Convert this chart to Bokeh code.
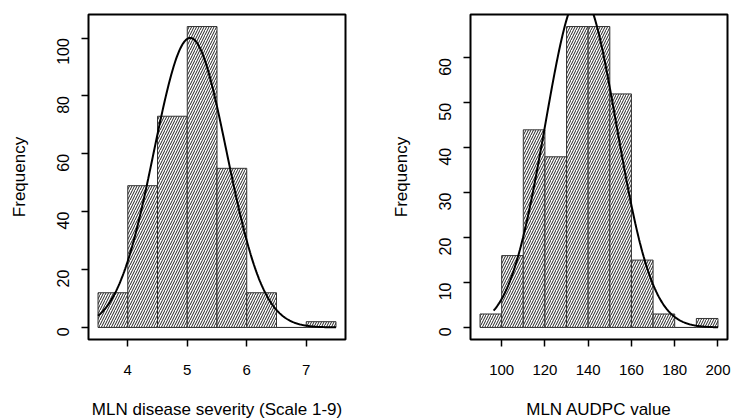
import math
import numpy as np
from bokeh.plotting import figure
from bokeh.layouts import row
from bokeh.models import Range1d, FixedTicker
from bokeh.embed import file_html
from bokeh.resources import INLINE

# ---- data ----
sev_edges = [3.5, 4.0, 4.5, 5.0, 5.5, 6.0, 6.5, 7.0, 7.5]
sev_counts = [12, 49, 73, 104, 55, 12, 0, 2]
sev_mean, sev_sd = 5.05, 0.612

aud_edges = [90, 100, 110, 120, 130, 140, 150, 160, 170, 180, 190, 200]
aud_counts = [3, 16, 44, 38, 67, 67, 52, 15, 3, 0, 2]
aud_mean, aud_sd = 136.6, 16.5
aud_curve_start = 96.3

sev_xticks = [4, 5, 6, 7]
sev_yticks = [0, 20, 40, 60, 80, 100]
aud_xticks = [100, 120, 140, 160, 180, 200]
aud_yticks = [0, 10, 20, 30, 40, 50, 60]

FONT = "Liberation Sans"


def panel(edges, counts, mean, sd, cstart, cend, xticks, yticks, xlabel,
          left_border, right_border):
    n = sum(counts)
    bw = edges[1] - edges[0]
    x0, x1 = edges[0], edges[-1]
    xpad = (x1 - x0) * 0.04
    ymax = max(counts)
    ypad = ymax * 0.04
    p = figure(frame_width=257, frame_height=325, output_backend="svg", toolbar_location=None,
               x_range=Range1d(x0 - xpad, x1 + xpad), y_range=Range1d(-ypad, ymax + ypad),
               min_border_left=left_border, min_border_right=right_border,
               min_border_top=14, min_border_bottom=80)
    p.grid.visible = False
    p.outline_line_color = "black"
    p.outline_line_width = 2
    p.background_fill_color = "white"
    p.border_fill_color = "white"

    p.quad(left=edges[:-1], right=edges[1:], bottom=0, top=counts,
           fill_color="white", line_color="#333333", line_width=1,
           hatch_pattern="/", hatch_scale=5, hatch_weight=1.0, hatch_color="#222222")

    xs = np.linspace(cstart, cend, 300)
    ys = n * bw / (sd * math.sqrt(2 * math.pi)) * np.exp(-0.5 * ((xs - mean) / sd) ** 2)
    p.line(xs, ys, line_color="black", line_width=2)

    for ax in (p.xaxis[0], p.yaxis[0]):
        ax.axis_line_color = None
        ax.minor_tick_line_color = None
        ax.major_tick_in = 0
        ax.major_tick_out = 7
        ax.major_tick_line_color = "black"
        ax.major_tick_line_width = 1.5
        ax.major_label_text_font = FONT
        ax.major_label_text_color = "black"
        ax.axis_label_text_font = FONT
        ax.axis_label_text_font_size = "17px"
        ax.axis_label_text_font_style = "normal"
        ax.axis_label_text_color = "black"

    p.xaxis.major_label_text_font_size = "15px"
    p.yaxis.major_label_text_font_size = "16px"
    p.xaxis.ticker = FixedTicker(ticks=xticks)
    p.yaxis.ticker = FixedTicker(ticks=yticks)
    p.xaxis.axis_label = xlabel
    p.yaxis.axis_label = "Frequency"
    p.xaxis.major_label_standoff = 18
    p.xaxis.axis_label_standoff = 22
    p.yaxis.major_label_orientation = math.pi / 2
    p.yaxis.major_label_standoff = 18
    p.yaxis.axis_label_standoff = 20
    return p


p1 = panel(sev_edges, sev_counts, sev_mean, sev_sd, sev_edges[0], sev_edges[-1],
           sev_xticks, sev_yticks, "MLN disease severity (Scale 1-9)", 88, 21)
p2 = panel(aud_edges, aud_counts, aud_mean, aud_sd, aud_curve_start, aud_edges[-1],
           aud_xticks, aud_yticks, "MLN AUDPC value", 104, 5)

layout = row(p1, p2, spacing=0)
open("out.html", "w").write(file_html(layout, INLINE))
